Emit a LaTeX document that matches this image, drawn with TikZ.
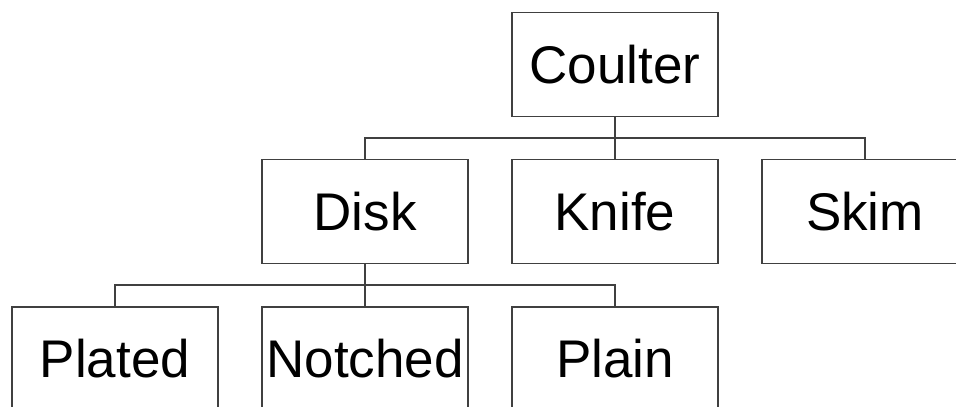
\documentclass[tikz,border=0pt]{standalone}
\usepackage{fontspec}
\setmainfont{Liberation Sans}
\definecolor{linegray}{HTML}{404040}
\begin{document}
\begin{tikzpicture}[x=1pt,y=-1pt,
  box/.style={draw=linegray,line width=1.3pt,minimum width=206pt,minimum height=104pt,inner sep=0pt,font=\fontsize{53}{60}\selectfont,text=black},
  conn/.style={draw=linegray,line width=1.3pt}]
\useasboundingbox (0,0) rectangle (956,407);
\clip (0,0) rectangle (956,407);
\node[box] (coulter) at (615,64.5) {Coulter};
\node[box] (disk) at (365,211.5) {Disk};
\node[box] (knife) at (615,211.5) {Knife};
\node[box] (skim) at (865,211.5) {Skim};
\node[box] (plated) at (115,359) {Plated};
\node[box] (notched) at (365,359) {Notched};
\node[box] (plain) at (615,359) {Plain};
\coordinate (b1) at (615,138);
\coordinate (b2) at (365,285);
\draw[conn] (coulter.south) -- (b1) -| (disk.north);
\draw[conn] (b1) -- (knife.north);
\draw[conn] (b1) -| (skim.north);
\draw[conn] (disk.south) -- (b2) -| (plated.north);
\draw[conn] (b2) -- (notched.north);
\draw[conn] (b2) -| (plain.north);
\end{tikzpicture}
\end{document}
